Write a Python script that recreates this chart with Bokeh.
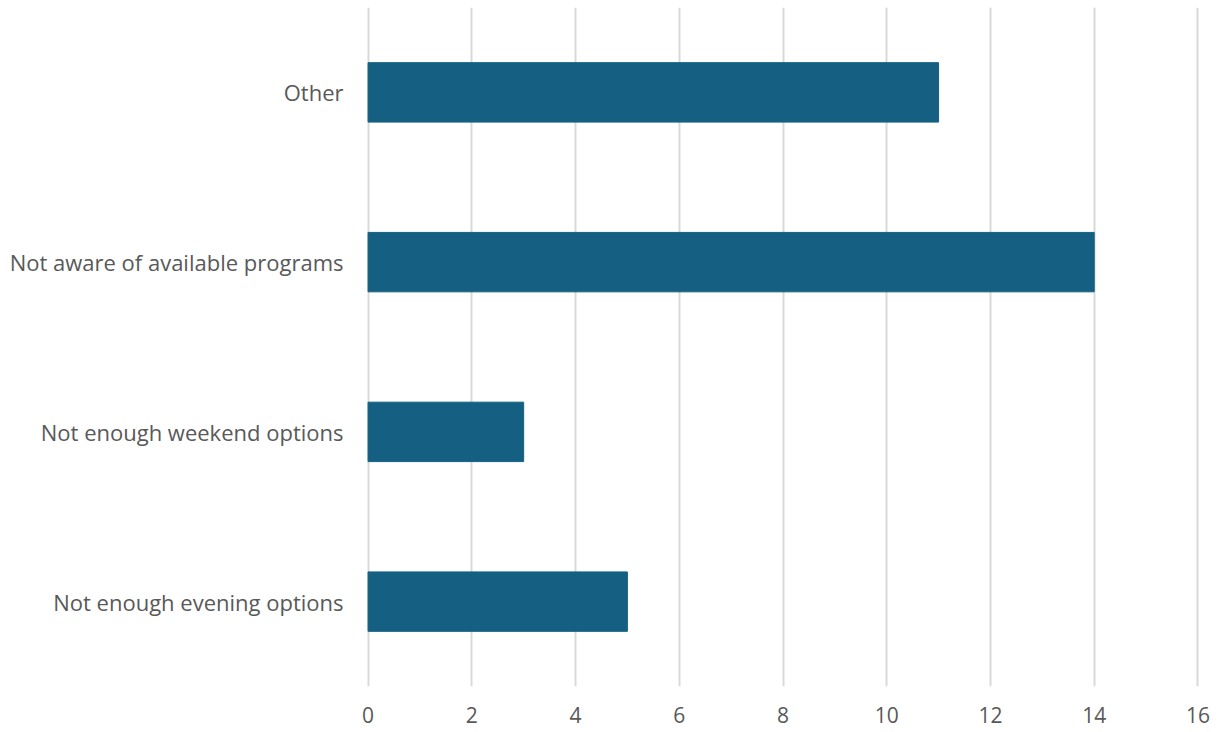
from bokeh.plotting import figure
from bokeh.models import FactorRange, Range1d, FixedTicker
from bokeh.embed import file_html
from bokeh.resources import INLINE

categories = ["Not enough evening options", "Not enough weekend options",
              "Not aware of available programs", "Other"]
counts = [5, 3, 14, 11]
x_ticks = [0, 2, 4, 6, 8, 10, 12, 14, 16]

p = figure(width=1221, height=732, output_backend="svg", toolbar_location=None,
           y_range=FactorRange(factors=categories, range_padding=0),
           x_range=Range1d(-0.03, 16.03))
p.min_border_left = 366
p.min_border_right = 22
p.min_border_top = 7
p.min_border_bottom = 46
p.outline_line_color = None

p.hbar(y=categories, right=counts, left=0, height=0.35, color="#156082")

font = "Open Sans"
p.xaxis.ticker = FixedTicker(ticks=x_ticks)
p.xaxis.axis_line_color = None
p.xaxis.major_tick_line_color = None
p.xaxis.minor_tick_line_color = None
p.xaxis.major_tick_out = 0
p.xaxis.major_label_standoff = 20
p.xaxis.major_label_text_font = font
p.xaxis.major_label_text_font_size = "21px"
p.xaxis.major_label_text_color = "#595959"

p.yaxis.axis_line_color = None
p.yaxis.major_tick_line_color = None
p.yaxis.major_tick_out = 0
p.yaxis.major_label_standoff = 23
p.yaxis.major_label_text_font = font
p.yaxis.major_label_text_font_size = "22px"
p.yaxis.major_label_text_color = "#595959"

p.ygrid.grid_line_color = None
p.xgrid.grid_line_color = "#d9d9d9"
p.xgrid.grid_line_width = 2

open("out.html", "w").write(file_html(p, INLINE))
